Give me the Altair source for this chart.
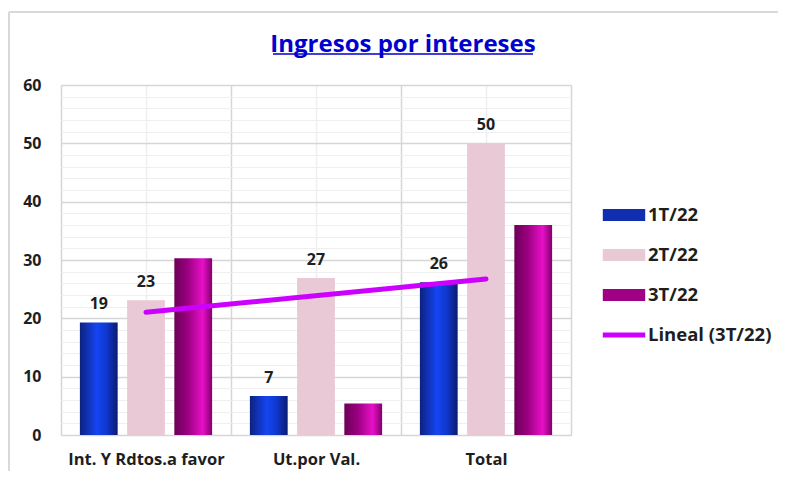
import altair as alt
import numpy as np
import pandas as pd

categories = ["Int. Y Rdtos.a favor", "Ut.por Val.", "Total"]
series = ["1T/22", "2T/22", "3T/22"]
v_1t = [19.3, 6.7, 26.2]
v_2t = [23.1, 26.9, 50.0]
v_3t = [30.3, 5.4, 36.0]
trend_name = "Lineal (3T/22)"
legend_items = series + [trend_name]

rows = []
for s, vals in zip(series, [v_1t, v_2t, v_3t]):
    for c, v in zip(categories, vals):
        rows.append({"cat": c, "series": s, "value": v})
df = pd.DataFrame(rows)

# linear trendline of 3T/22 (Excel style: x = 1..n)
xs = np.arange(1, len(categories) + 1)
slope, intercept = np.polyfit(xs, v_3t, 1)
trend_df = pd.DataFrame({
    "cat": [categories[0], categories[-1]],
    "value": [intercept + slope * xs[0], intercept + slope * xs[-1]],
})

FONT = "Open Sans"
W, H = 510, 350

x_scale = alt.Scale(domain=categories, paddingInner=0, paddingOuter=0)
xo_scale = alt.Scale(domain=series, paddingInner=0.2, paddingOuter=0.4)
y_scale = alt.Scale(domain=[0, 60], nice=False)

y_axis = alt.Axis(
    title=None, values=list(range(0, 61, 2)),
    labelExpr="datum.value % 10 === 0 ? datum.label : ''",
    grid=True,
    gridColor={"condition": {"test": "datum.value % 10 === 0", "value": "#d6d6d6"}, "value": "#efefef"},
    gridWidth={"condition": {"test": "datum.value % 10 === 0", "value": 1.5}, "value": 1},
    ticks=False, domain=False, labelPadding=20,
    labelFont=FONT, labelFontSize=16, labelFontWeight="bold", labelColor="#1e1e1e",
)

x_axis_main = alt.Axis(
    title=None, tickBand="extent", grid=True, gridColor="#d6d6d6", gridWidth=1.5,
    ticks=False, domain=False, labelPadding=16, labelAngle=0,
    labelFont=FONT, labelFontSize=16.5, labelFontWeight="bold", labelColor="#1e1e1e",
)
x_axis_center = alt.Axis(
    title=None, orient="top", grid=True, gridColor="#eeeeee", gridWidth=1.5,
    ticks=False, domain=False, labels=False,
)

grad_blue = alt.Gradient(
    gradient="linear", x1=0, y1=0, x2=1, y2=0,
    stops=[alt.GradientStop(offset=0, color="#0c2280"),
           alt.GradientStop(offset=0.45, color="#1545f2"),
           alt.GradientStop(offset=0.7, color="#0f38d0"),
           alt.GradientStop(offset=1, color="#0a1c6e")],
)
grad_mag = alt.Gradient(
    gradient="linear", x1=0, y1=0, x2=1, y2=0,
    stops=[alt.GradientStop(offset=0, color="#6c0058"),
           alt.GradientStop(offset=0.35, color="#9a0080"),
           alt.GradientStop(offset=0.75, color="#e810c8"),
           alt.GradientStop(offset=1, color="#80006a")],
)
fills = {"1T/22": grad_blue, "2T/22": "#e8c9d5", "3T/22": grad_mag}

base = alt.Chart(df)

bar_layers = []
for i, s in enumerate(series):
    bar_layers.append(
        base.transform_filter(alt.datum.series == s)
        .mark_bar(fill=fills[s])
        .encode(
            x=alt.X("cat:N", scale=x_scale, sort=categories,
                    axis=x_axis_main if i == 0 else None),
            xOffset=alt.XOffset("series:N", scale=xo_scale, sort=series),
            y=alt.Y("value:Q", scale=y_scale, axis=y_axis),
        )
    )

labels = (
    base.transform_filter(alt.datum.series != "3T/22")
    .mark_text(baseline="alphabetic", dy=-13, font=FONT, fontSize=16,
               fontWeight="bold", color="#1e1e1e")
    .encode(
        x=alt.X("cat:N", scale=x_scale, sort=categories, axis=None),
        xOffset=alt.XOffset("series:N", scale=xo_scale, sort=series),
        y=alt.Y("value:Q", scale=y_scale, axis=y_axis),
        text=alt.Text("value:Q", format=".0f"),
    )
)

trend = (
    alt.Chart(trend_df)
    .mark_line(color="#cc00ff", strokeWidth=5, strokeCap="round")
    .encode(
        x=alt.X("cat:N", scale=x_scale, sort=categories, axis=x_axis_center),
        y=alt.Y("value:Q", scale=y_scale, axis=y_axis),
    )
)

rect_path = "M-1.06,-0.3H1.06V0.3H-1.06Z"
line_path = "M-1.06,-0.12H1.06V0.12H-1.06Z"
leg = alt.Legend(
    title=None, orient="none", legendX=543, legendY=110,
    symbolSize=1600, symbolStrokeWidth=0, rowPadding=10, padding=0,
    labelOffset=4, labelFont=FONT, labelFontSize=18.5,
    labelFontWeight="bold", labelColor="#1e1e1e", labelLimit=300,
)
legend_layer = (
    base.transform_filter("false")
    .mark_point(filled=True, opacity=1)
    .encode(
        color=alt.Color(
            "series:N",
            scale=alt.Scale(domain=legend_items,
                            range=["#0f2fb0", "#e8c9d5", "#a00086", "#cc00ff"]),
            legend=leg,
        ),
        shape=alt.Shape(
            "series:N",
            scale=alt.Scale(domain=legend_items,
                            range=[rect_path, rect_path, rect_path, line_path]),
            legend=leg,
        ),
    )
)

underline = alt.Chart(pd.DataFrame({"k": [0]})).mark_rule(
    color="#0000cc", strokeWidth=1.5
).encode(x=alt.value(212), x2=alt.value(472), y=alt.value(-31))

frame_top = alt.Chart(pd.DataFrame({"k": [0]})).mark_rule(
    color="#d9d9d9", strokeWidth=2
).encode(x=alt.value(-52), x2=alt.value(717), y=alt.value(-73))
frame_left = alt.Chart(pd.DataFrame({"k": [0]})).mark_rule(
    color="#d9d9d9", strokeWidth=2
).encode(x=alt.value(-52), y=alt.value(-73), y2=alt.value(400))

chart = (
    alt.layer(legend_layer, *bar_layers, trend, labels, underline, frame_top, frame_left)
    .resolve_axis(x="independent")
    .properties(
        width=W, height=H,
        padding={"left": 53, "top": 77, "right": 207, "bottom": 36},
        autosize=alt.AutoSizeParams(type="none"),
        title=alt.TitleParams(
            "Ingresos por intereses", font=FONT, fontSize=24, fontWeight="bold",
            color="#0000cc", anchor="middle", frame="group", dx=87, offset=-65,
            baseline="alphabetic",
        ),
    )
    .configure_view(strokeWidth=0)
    .configure(background="white")
)

chart.save("out.html", embed_options={"renderer": "svg", "actions": False})
